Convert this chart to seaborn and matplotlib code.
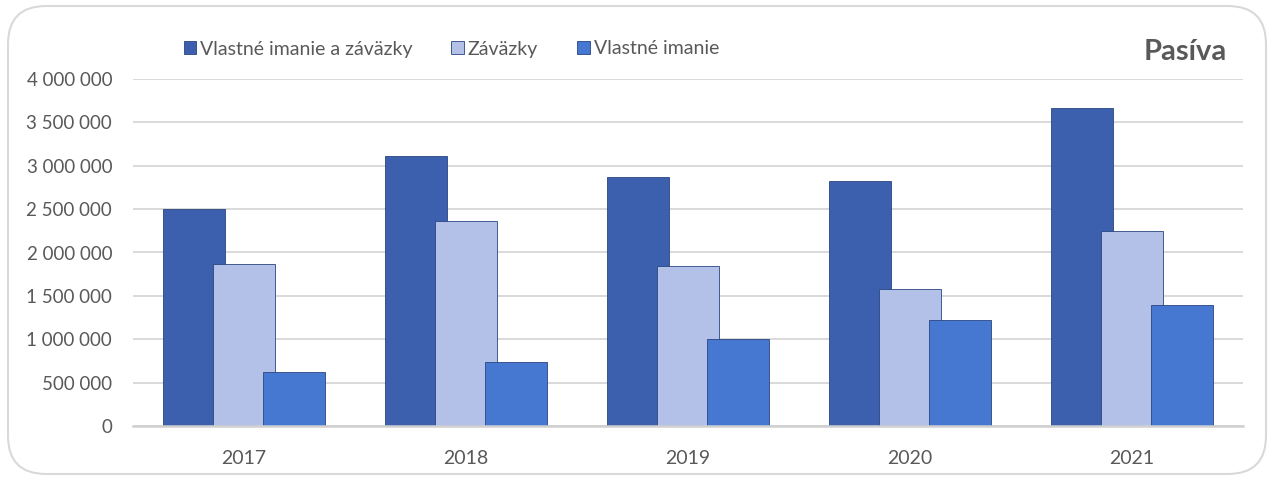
import pandas as pd
import matplotlib
matplotlib.use("Agg")
import matplotlib.pyplot as plt
import seaborn as sns
from matplotlib.patches import FancyBboxPatch, Patch
from matplotlib.ticker import FuncFormatter

# data
years = ["2017", "2018", "2019", "2020", "2021"]
series = ["Vlastné imanie a záväzky", "Záväzky", "Vlastné imanie"]
total = [2505000, 3115000, 2870000, 2820000, 3665000]
liabilities = [1862000, 2368000, 1850000, 1583000, 2250000]
equity = [624000, 736000, 1000000, 1226000, 1399000]
colors = ["#3C60AE", "#B3C1E8", "#4677D1"]

df = pd.DataFrame({
    "year": years * 3,
    "series": [s for s in series for _ in years],
    "value": total + liabilities + equity,
})

sns.set_theme(style="white")
plt.rcParams["font.family"] = ["Lato", "DejaVu Sans"]

W, H = 1271, 486
fig = plt.figure(figsize=(W / 100, H / 100), dpi=100)
ax = fig.add_axes([133 / W, 1 - 426 / H, (1243 - 133) / W, (426 - 79) / H])

sns.barplot(data=df, x="year", y="value", hue="series", palette=colors,
            width=0.675, gap=0, saturation=1, legend=False, ax=ax)

# Excel-style bars overlap a little
for p in ax.patches:
    c = p.get_x() + p.get_width() / 2
    p.set_width(0.279)
    p.set_x(c - 0.279 / 2)
    p.set_edgecolor("#2A4680")
    p.set_linewidth(0.6)

ax.set_xlim(-0.5, 4.5)
ax.set_ylim(0, 4000000)
ax.set_yticks(range(0, 4000001, 500000))
ax.yaxis.set_major_formatter(FuncFormatter(lambda v, _: f"{int(v):,}".replace(",", " ")))
ax.yaxis.grid(True, color="#D9D9D9", linewidth=1.4)
ax.set_axisbelow(True)
ax.set_xlabel("")
ax.set_ylabel("")
for s in ["left", "right", "top"]:
    ax.spines[s].set_visible(False)
ax.spines["bottom"].set_color("#D0D0D0")
ax.spines["bottom"].set_linewidth(1.8)
ax.tick_params(axis="y", length=0, pad=15, labelsize=13.5, labelcolor="#595959")
ax.tick_params(axis="x", length=0, pad=17, labelsize=14, labelcolor="#595959")

handles = [Patch(facecolor=c, edgecolor="#2A4680", linewidth=0.6) for c in colors]
fig.legend(handles, series, loc="center left", bbox_to_anchor=(166 / W, 1 - 49 / H),
           ncol=3, frameon=False, fontsize=14, labelcolor="#595959",
           handlelength=0.65, handleheight=0.65, handletextpad=0.2, columnspacing=2.0)

fig.text(1227 / W, 1 - 52 / H, "Pasíva", ha="right", va="center",
         fontsize=21, fontweight="bold", color="#595959")

border = FancyBboxPatch((8 / W, 12 / H), (1266 - 8) / W, (480 - 12) / H,
                        boxstyle="round,pad=0,rounding_size=0.03",
                        transform=fig.transFigure, facecolor="none",
                        edgecolor="#D9D9D9", linewidth=1.5,
                        mutation_aspect=W / H)
fig.patches.append(border)

fig.savefig("out.png", dpi=100)
